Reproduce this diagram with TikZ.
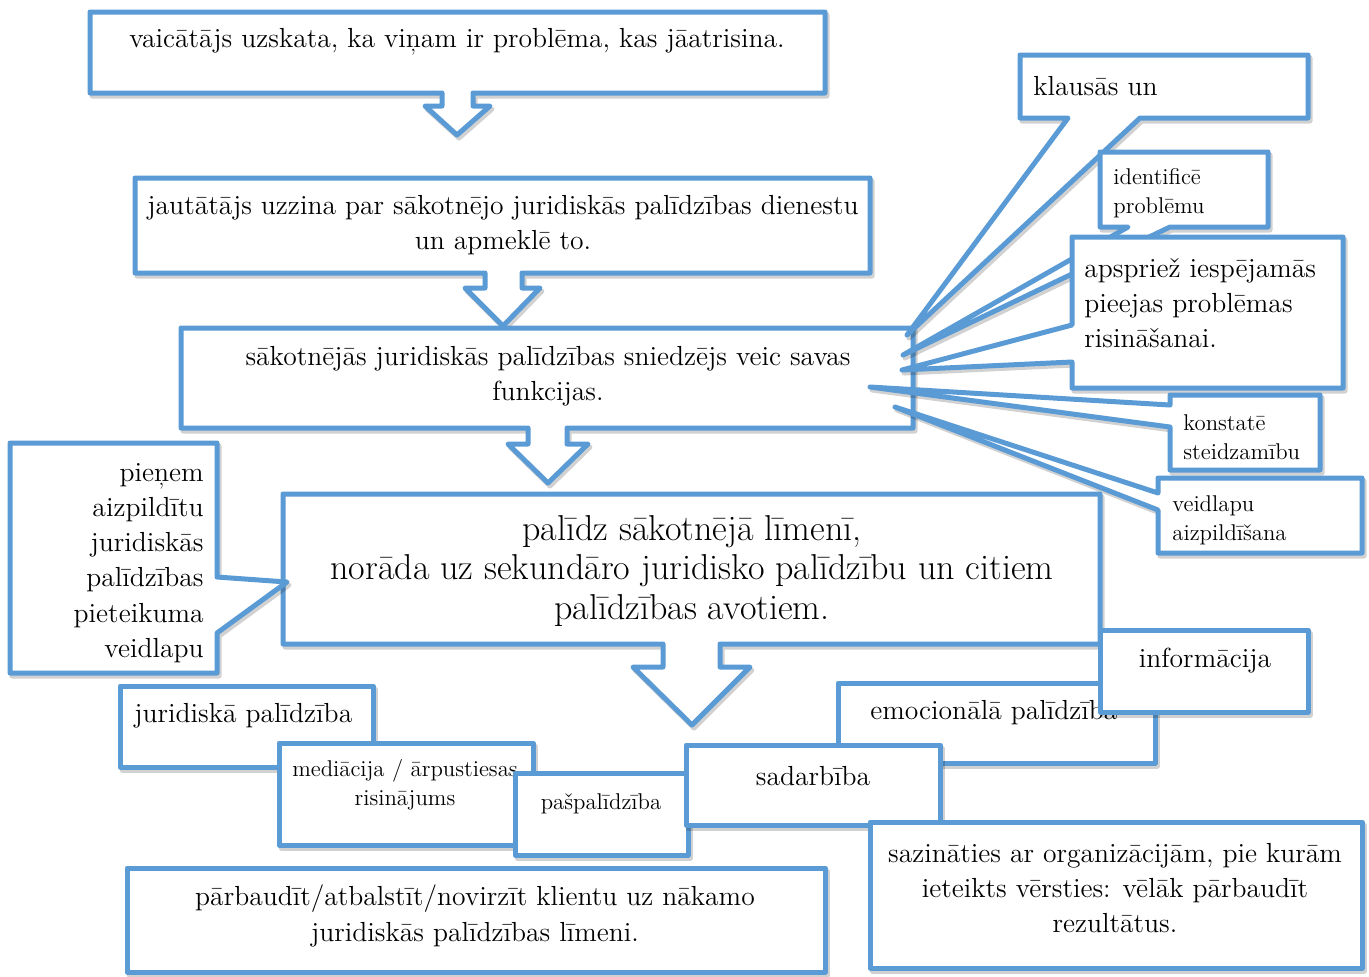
\documentclass[tikz,border=0pt]{standalone}
\definecolor{cblue}{RGB}{91,155,213}
\tikzset{
  shp/.style={draw=cblue, fill=white, line width=2.5pt, line join=round},
  shd/.style={draw=black, opacity=0.18, line width=2.5pt, line join=round},
  mtxt/.style={font=\fontsize{13.8}{17.6}\selectfont, align=center, inner sep=0pt},
  btxt/.style={font=\fontsize{18}{19.8}\selectfont, align=center, inner sep=0pt},
  stxt/.style={font=\fontsize{11.4}{14.3}\selectfont, align=left, inner sep=0pt},
}
\newcommand\callout[1]{\draw[shd,shift={(2,3)}] #1; \draw[shp] #1;}
\begin{document}
\begin{tikzpicture}[x=0.5pt,y=-0.5pt]
\useasboundingbox (0,0) rectangle (1369,976);
% flow boxes
\callout{(90,12) -- (825,12) -- (825,93) -- (473,93) -- (473,106) -- (490,106) -- (457,135) -- (425,106) -- (442,106) -- (442,93) -- (90,93) -- cycle}
\node[mtxt] (t1) at (457,42) {vaicātājs uzskata, ka viņam ir problēma, kas jāatrisina.};
\callout{(135,178) -- (870,178) -- (870,273) -- (522,273) -- (522,288) -- (540,288) -- (503,326) -- (465,288) -- (485,288) -- (485,273) -- (135,273) -- cycle}
\node[mtxt] (t2) at (503,225) {jautātājs uzzina par sākotnējo juridiskās palīdzības dienestu\\un apmeklē to.};
\callout{(181,328) -- (913,328) -- (913,428) -- (567,428) -- (567,444) -- (588,444) -- (548,483) -- (508,444) -- (528,444) -- (528,428) -- (181,428) -- cycle}
\node[mtxt] (t3) at (548,376) {sākotnējās juridiskās palīdzības sniedzējs veic savas\\funkcijas.};
% right callouts
\callout{(1020,55) -- (1308,55) -- (1308,118) -- (1140,118) -- (907,335) -- (1068,118) -- (1020,118) -- cycle}
\node[mtxt, anchor=west] (c1) at (1033,86) {klausās un};
\callout{(1100,152) -- (1268,152) -- (1268,227) -- (1170,227) -- (903,355) -- (1128,227) -- (1100,227) -- cycle}
\node[stxt, anchor=west] (c2) at (1113,193) {identificē\\problēmu};
\callout{(1072,237) -- (1343,237) -- (1343,388) -- (1072,388) -- (1072,362) -- (902,370) -- (1072,325) -- cycle}
\node[mtxt, align=left, anchor=west] (c3) at (1084,303) {apspriež iespējamās\\pieejas problēmas\\risināšanai.};
\callout{(1170,395) -- (1320,395) -- (1320,470) -- (1170,470) -- (1170,427) -- (870,387) -- (1170,405) -- cycle}
\node[stxt, anchor=west] (c4) at (1183,437) {konstatē\\steidzamību};
\callout{(1158,478) -- (1362,478) -- (1362,553) -- (1158,553) -- (1158,510) -- (895,407) -- (1158,493) -- cycle}
\node[stxt, anchor=west] (c5) at (1172,520) {veidlapu\\aizpildīšana};
% box 4
\callout{(283,494) -- (1100,494) -- (1100,644) -- (720,644) -- (720,667) -- (750,667) -- (692,725) -- (633,667) -- (663,667) -- (663,644) -- (283,644) -- cycle}
\node[btxt] (t4) at (692,571) {palīdz sākotnējā līmenī,\\norāda uz sekundāro juridisko palīdzību un citiem\\palīdzības avotiem.};
% left callout
\callout{(10,443) -- (217,443) -- (217,577) -- (287,582) -- (217,633) -- (217,673) -- (10,673) -- cycle}
\node[mtxt, align=right, anchor=east] (l1) at (204,563) {pieņem\\aizpildītu\\juridiskās\\palīdzības\\pieteikuma\\veidlapu};
% bottom boxes
\callout{(120,686) rectangle (373,767)}
\node[mtxt, anchor=west] (b1) at (134,716) {juridiskā palīdzība};
\callout{(279,743) rectangle (533,845)}
\node[stxt, align=center] (b2) at (405,785) {mediācija / ārpustiesas\\risinājums};
\callout{(515,773) rectangle (688,855)}
\node[stxt] (b3) at (601,804) {pašpalīdzība};
\callout{(838,683) rectangle (1155,763)}
\node[mtxt, anchor=west] (b4) at (870,713) {emocionālā palīdzība};
\callout{(686,745) rectangle (940,825)}
\node[mtxt] (b5) at (813,776) {sadarbība};
\callout{(870,822) rectangle (1362,968)}
\node[mtxt] (b6) at (1115,888) {sazināties ar organizācijām, pie kurām\\ieteikts vērsties: vēlāk pārbaudīt\\rezultātus.};
\callout{(1100,630) rectangle (1308,712)}
\node[mtxt] (b7) at (1205,661) {informācija};
\callout{(127,868) rectangle (825,972)}
\node[mtxt] (b8) at (475,916) {pārbaudīt/atbalstīt/novirzīt klientu uz nākamo\\juridiskās palīdzības līmeni.};
\end{tikzpicture}
\end{document}
